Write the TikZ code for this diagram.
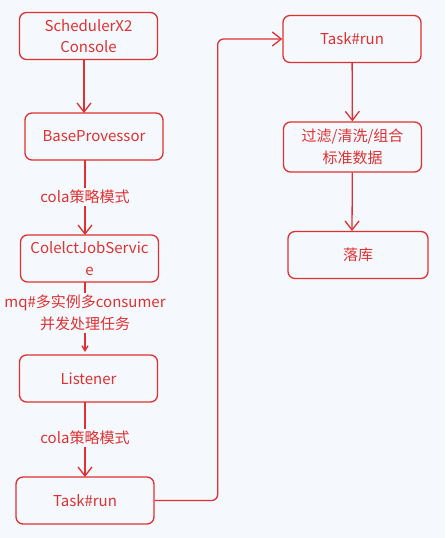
\documentclass[tikz,border=0pt]{standalone}
\usepackage{fontspec}
\newfontfamily\cjk{Noto Sans CJK SC}
\usepackage{tikz}
\usetikzlibrary{arrows.meta}
\usetikzlibrary{positioning}
\definecolor{exred}{HTML}{E03131}
\definecolor{exbg}{HTML}{F5F9FD}

\begin{document}
\begin{tikzpicture}[x=1pt,y=-1pt,>={Straight Barb[length=9pt,width=14pt]},
  every node/.style={font=\cjk\fontsize{15}{21.5}\selectfont,text=exred,align=center}]
\tikzstyle{box} = [draw=exred,line width=1.3pt,rounded corners=7pt,fill=exbg,minimum width=138pt,minimum height=47pt]
\tikzstyle{label} = [fill=exbg,inner sep=2pt]
\tikzstyle{link} = [draw=exred,line width=1.3pt]
\useasboundingbox[fill=exbg] (0,0) rectangle (445,538);

\node[box] (console) at (88.5,36) {SchedulerX2\\Console};
\node[box] (base) at (94,136.5) {BaseProvessor};
\node[box] (collect) at (89.5,258.5) {ColelctJobServic\\e};
\node[box] (listener) at (88.5,378.5) {Listener};
\node[box] (task) at (85,500.5) {Task\#run};

\node[box] (run) at (352,39) {Task\#run};
\node[box,minimum height=50pt] (clean) at (352.5,147) {过滤/清洗/组合\\标准数据};
\node[box,minimum width=140pt] (store) at (358,255) {落库};

\node[label] (cola1) at (85,197) {cola策略模式};
\node[label] (mq) at (85,313) {mq\#多实例多consumer\\并发处理任务};
\node[label] (cola2) at (85,438) {cola策略模式};

\draw[link,->] (84,60) -- (84,113);
\draw[link] (85,160) -- (cola1);
\draw[link,->] (cola1) -- (85,235);
\draw[link] (85,282) -- (mq);
\draw[link,->,>={Straight Barb[length=5pt,width=6pt]}] (mq) -- (85,352);
\draw[link] (85,402) -- (cola2);
\draw[link,->] (cola2) -- (85,477);
\draw[link,->,rounded corners=6pt] (task.east) -- ++(63,0) |- (run.west);
\draw[link,->] (run) -- (clean);
\draw[link,->] (clean) -- (352,231);
\end{tikzpicture}
\end{document}
